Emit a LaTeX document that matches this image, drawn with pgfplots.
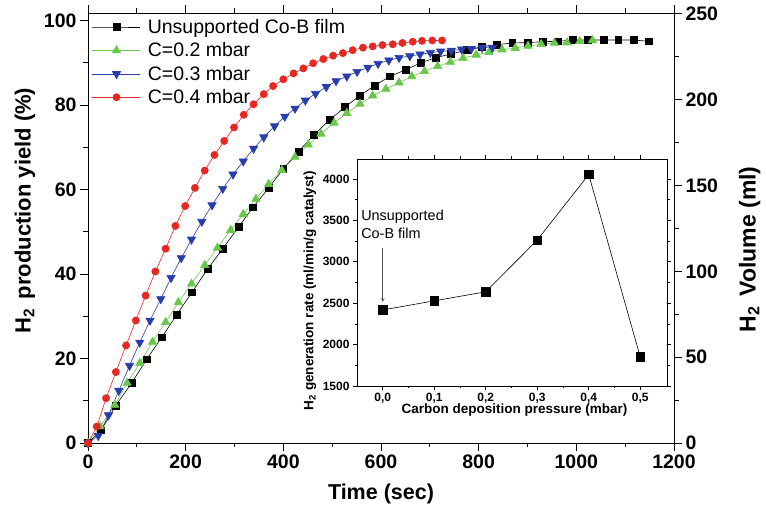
\documentclass[border=0pt]{standalone}
\usepackage{fontspec}
\setmainfont{Liberation Sans}
\usepackage{pgfplots}
\pgfplotsset{compat=1.18}

\definecolor{cgreen}{RGB}{105,200,75}
\definecolor{cblue}{RGB}{40,60,170}
\definecolor{cred}{RGB}{230,40,35}

\pgfplotsset{
  every tick label/.append style={font=\bfseries\fontsize{19.5}{19.5}\selectfont},
  /pgf/number format/assume math mode=true,
  /pgf/number format/1000 sep={},
}

\begin{document}
\begin{tikzpicture}
\path[use as bounding box] (-88pt,-62pt) rectangle (678pt,443pt);

% time course of the hydrolysis, left scale in %
\begin{axis}[
  at={(0,0)}, anchor=south west,
  scale only axis, width=586pt, height=430pt,
  xmin=0, xmax=1200, ymin=0, ymax=101.8,
  axis y line*=left,
  xtick={0,200,400,600,800,1000,1200},
  minor xtick={100,300,500,700,900,1100},
  ytick={0,20,40,60,80,100},
  minor ytick={10,30,50,70,90},
  tick align=outside,
  major tick length=8pt, minor tick length=4.5pt,
  every tick/.style={black, line width=0.8pt},
  axis line style={line width=0.9pt},
  xlabel={Time (sec)},
  ylabel={H\textsubscript{2}\, production yield (\%)},
  every axis x label/.style={at={(axis description cs:0.5,-0.132)}, anchor=base,
    font=\bfseries\fontsize{21.5}{21.5}\selectfont},
  every axis y label/.style={at={(axis description cs:-0.1075,0.54)}, rotate=90, anchor=center,
    font=\bfseries\fontsize{22}{22}\selectfont},
  legend style={at={(axis description cs:0,1)}, anchor=north west, xshift=3pt, yshift=-3pt,
    draw=none, fill=none, font=\fontsize{19.5}{23}\selectfont,
    row sep=3.8pt, column sep=5pt, inner sep=1pt},
  legend cell align=left,
  legend image code/.code={
    \draw[mark repeat=2,mark phase=2] plot coordinates {(0pt,0pt) (24pt,0pt) (48pt,0pt)};},
]
\addplot[black, line width=0.6pt, mark=square*, mark size=3.4pt, mark options={solid}] coordinates {
(0,0) (27,3.0) (57,8.9) (90,14.3) (120,19.8) (151,25.0) (182,30.4) (213,35.7)
(245,41.2) (276,46.0) (308,51.1) (338,55.8) (370,60.4) (400,64.9) (431,69.0)
(463,73.0) (495,76.5) (526,79.5) (556,82.2) (587,84.6) (618,86.8) (650,88.3)
(681,90.0) (712,91.2) (743,92.1) (775,93.0) (806,93.8) (837,94.3) (869,94.7)
(900,94.8) (931,95.0) (962,95.1) (993,95.4) (1024,95.4) (1056,95.4) (1086,95.4)
(1118,95.4) (1148,95.1)};
\addlegendentry{Unsupported Co-B film}
\addplot[cgreen, line width=0.6pt, mark=triangle*, mark size=4.8pt, mark options={solid}] coordinates {
(0,0) (25,3.9) (55,9.0) (80,14.2) (106,18.9) (132,23.9) (159,28.6) (185,33.3)
(212,37.7) (239,42.1) (265,46.2) (292,50.4) (318,54.2) (344,57.8) (370,61.3)
(397,64.6) (424,67.7) (451,70.6) (477,73.2) (504,75.8) (530,78.1) (557,80.3)
(583,82.2) (610,83.8) (637,85.3) (663,86.8) (689,88.0) (716,89.2) (742,90.2)
(768,91.1) (795,91.9) (821,92.5) (848,93.1) (875,93.5) (901,94.0) (928,94.4)
(955,94.7) (981,94.8) (1007,95.1) (1033,95.3)};
\addlegendentry{C=0.2 mbar}
\addplot[cblue, line width=0.6pt, mark=triangle*, mark size=4.8pt, mark options={solid, rotate=180}] coordinates {
(0,0) (21,1.7) (42,6.6) (63,12.4) (85,18.3) (106,23.8) (127,29.0) (149,34.1)
(170,39.1) (191,43.8) (212,48.2) (233,52.4) (254,56.3) (276,60.2) (297,63.6)
(318,66.7) (339,69.7) (360,72.4) (382,75.0) (403,77.3) (424,79.2) (445,81.1)
(466,82.7) (488,84.3) (508,85.7) (530,86.8) (551,87.9) (573,88.9) (594,89.8)
(616,90.6) (637,91.2) (659,91.6) (680,92.0) (701,92.4) (722,92.7) (744,92.9)
(765,93.2) (785,93.3) (807,93.6) (828,93.6)};
\addlegendentry{C=0.3 mbar}
\addplot[cred, line width=0.6pt, mark=*, mark size=3.6pt, mark options={solid}] coordinates {
(0,0) (18,3.9) (37,10.6) (57,16.8) (78,23.1) (98,29.0) (118,34.9) (138,40.6)
(159,46.0) (179,51.4) (199,56.1) (219,60.4) (239,64.5) (259,68.2) (279,71.5)
(299,74.7) (319,77.7) (339,80.2) (360,82.6) (379,84.5) (400,86.1) (421,87.5)
(441,88.7) (461,89.9) (482,90.9) (502,91.7) (522,92.3) (542,93.0) (563,93.6)
(583,93.9) (603,94.2) (624,94.4) (644,94.7) (665,95.0) (684,95.2) (705,95.3)
(725,95.3)};
\addlegendentry{C=0.4 mbar}
\end{axis}

% right scale: released volume in ml
\begin{axis}[
  at={(0,0)}, anchor=south west,
  scale only axis, width=586pt, height=430pt,
  xmin=0, xmax=1200, ymin=0, ymax=250.5,
  axis x line=none, axis y line*=right,
  ytick={0,50,100,150,200,250},
  minor ytick={25,75,125,175,225},
  tick align=outside,
  major tick length=8pt, minor tick length=4.5pt,
  every tick/.style={black, line width=0.8pt},
  axis line style={line width=0.9pt},
  ylabel={H\textsubscript{2}\, Volume (ml)},
  every axis y label/.style={at={(axis description cs:1.129,0.45)}, rotate=90, anchor=center,
    font=\bfseries\fontsize{23}{23}\selectfont},
]
\end{axis}

% inset: generation rate against carbon deposition pressure
\begin{axis}[
  at={(269pt,57pt)}, anchor=south west,
  scale only axis, width=310pt, height=227pt,
  xmin=-0.05, xmax=0.552, ymin=1500, ymax=4240,
  axis background/.style={fill=white},
  xtick={0,0.1,0.2,0.3,0.4,0.5},
  minor xtick={0.05,0.15,0.25,0.35,0.45},
  ytick={1500,2000,2500,3000,3500,4000},
  minor ytick={1750,2250,2750,3250,3750},
  tick align=outside,
  major tick length=4pt, minor tick length=2.5pt,
  every tick/.style={black, line width=0.6pt},
  axis line style={line width=0.7pt},
  every tick label/.append style={font=\bfseries\fontsize{12}{12}\selectfont},
  xticklabel style={/pgf/number format/.cd, fixed, fixed zerofill, precision=1, use comma},
  yticklabel style={/pgf/number format/.cd, fixed, 1000 sep={}},
  xlabel={Carbon deposition pressure (mbar)},
  ylabel={H\textsubscript{2} generation rate (ml/min/g catalyst)},
  every axis x label/.style={at={(axis description cs:0.508,-0.106)}, anchor=center,
    font=\bfseries\fontsize{13.5}{13.5}\selectfont},
  every axis y label/.style={at={(axis description cs:-0.152,0.42)}, rotate=90, anchor=center,
    font=\bfseries\fontsize{13.5}{13.5}\selectfont},
]
\addplot[black, line width=0.6pt, mark=square*, mark size=4.2pt] coordinates {
(0,2418) (0.1,2528) (0.2,2637) (0.3,3262) (0.4,4052) (0.5,1851)};
\node[anchor=north west, align=left, inner sep=0pt, font=\fontsize{14.4}{17.5}\selectfont]
  at (axis cs:-0.042,3620) {Unsupported\\Co-B film};
\draw[-stealth, gray!70!black, line width=0.6pt] (axis cs:0,3165) -- (axis cs:0,2516);
\end{axis}
\end{tikzpicture}
\end{document}
